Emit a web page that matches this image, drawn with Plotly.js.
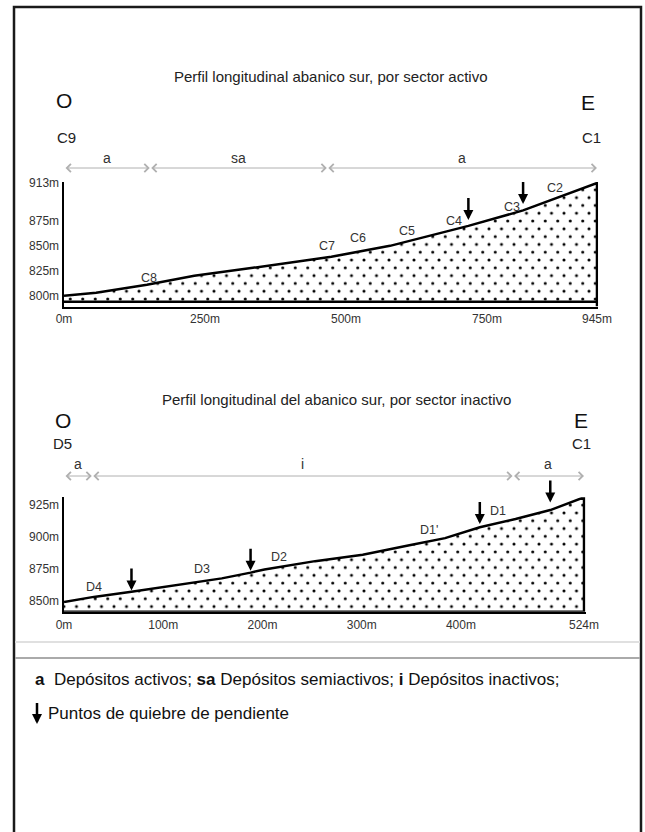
<!DOCTYPE html>
<html>
<head>
<meta charset="utf-8">
<script src="https://cdn.plot.ly/plotly-3.0.1.min.js"></script>
<style>
html,body{margin:0;padding:0;background:#fff;}
#chart{width:645px;height:832px;}
</style>
</head>
<body>
<div id="chart"></div>
<script>
// ---------- DATA ----------
// Active sector profile (distance m, elevation m)
const activeDist = [0, 57, 147, 231, 335, 474, 578, 613, 648, 717, 814, 945];
const activeElev = [800, 803, 811, 820, 828, 839, 850, 855, 860, 870, 885.5, 913];
const activeBase = 794;
const activeXTicks = [0, 250, 500, 750, 945];
const activeYTicks = [800, 825, 850, 875, 913];
const activeLabels = ['C8', 'C7', 'C6', 'C5', 'C4', 'C3', 'C2'];
const activeLabelX = [151, 467, 521, 609, 691, 795, 871];
const activeLabelY = [818, 849.7, 858, 864.5, 875, 888.7, 908];
const activeBreakX = [717, 814];
const activeBreakTip = [876, 892];
const activeSegStart = [0, 152, 466];
const activeSegEnd = [152, 466, 945];
const activeSegLabel = ['a', 'sa', 'a'];

// Inactive sector profile
const inactiveDist = [0, 30, 68, 110, 159, 188, 202, 253, 301, 348, 384, 419, 455, 490, 524];
const inactiveElev = [849, 853, 857, 862, 867.5, 872, 874.5, 881, 886, 893.5, 899, 907.5, 914, 921, 931];
const inactiveXTicks = [0, 100, 200, 300, 400, 524];
const inactiveYTicks = [850, 875, 900, 925];
const inactiveLabels = ['D4', 'D3', 'D2', "D1'", 'D1'];
const inactiveLabelX = [30, 139, 217, 368, 437];
const inactiveLabelY = [861, 874.5, 884.5, 905.4, 920];
const inactiveBreakX = [68, 188, 419, 490];
const inactiveBreakTip = [858, 873.5, 910, 927];
const inactiveSegStart = [0, 28, 452];
const inactiveSegEnd = [28, 452, 524];
const inactiveSegLabel = ['a', 'i', 'a'];

const title1 = 'Perfil longitudinal abanico sur, por sector activo';
const title2 = 'Perfil longitudinal del abanico sur, por sector inactivo';
const legendLine1 = '<b>a</b>  Depósitos activos; <b>sa</b> Depósitos semiactivos; <b>i</b> Depósitos inactivos;';
const legendLine2 = 'Puntos de quiebre de pendiente';

// ---------- LAYOUT HELPERS ----------
const W = 645, H = 832;
const px = v => v / W;
const py = v => 1 - v / H;
const FONT = 'Liberation Sans, Arial, sans-serif';

const yRange1 = [789.2, 914];
const yRange2 = [841.4, 931];

function polyX(d) { return d.concat([d[d.length - 1], d[0]]); }
function polyY(e, base) { return e.concat([base, base]); }

const pattern = {shape: '.', size: 12, solidity: 0.05, fgcolor: '#000', bgcolor: '#fff', fgopacity: 1, fillmode: 'replace'};

const data = [
  {
    x: polyX(activeDist), y: polyY(activeElev, activeBase),
    xaxis: 'x', yaxis: 'y', type: 'scatter', mode: 'lines', fill: 'toself',
    fillcolor: '#fff', fillpattern: pattern,
    line: {color: '#000', width: 2.5}, hoverinfo: 'skip'
  },
  {
    x: polyX(inactiveDist), y: polyY(inactiveElev, yRange2[0]),
    xaxis: 'x2', yaxis: 'y2', type: 'scatter', mode: 'lines', fill: 'toself',
    fillcolor: '#fff', fillpattern: pattern,
    line: {color: '#000', width: 2.5}, hoverinfo: 'skip'
  }
];

const axisCommon = {
  showgrid: false, zeroline: false, showline: true, linecolor: '#000', linewidth: 2.5,
  ticks: '', tickfont: {family: FONT, size: 12, color: '#333'}, fixedrange: true
};

const layout = {
  width: W, height: H,
  margin: {l: 0, r: 0, t: 0, b: 0},
  paper_bgcolor: '#fff', plot_bgcolor: 'rgba(0,0,0,0)',
  showlegend: false,
  xaxis: Object.assign({}, axisCommon, {
    domain: [px(64), px(598.1)], range: [0, 947], anchor: 'y',
    tickvals: activeXTicks, ticktext: activeXTicks.map(v => v + 'm')
  }),
  yaxis: Object.assign({}, axisCommon, {
    domain: [py(306.5), py(182)], range: yRange1, anchor: 'x',
    tickvals: activeYTicks, ticktext: activeYTicks.map(v => v + 'm')
  }),
  xaxis2: Object.assign({}, axisCommon, {
    domain: [px(64), px(585.5)], range: [0, 525.5], anchor: 'y2',
    tickvals: inactiveXTicks, ticktext: inactiveXTicks.map(v => v + 'm')
  }),
  yaxis2: Object.assign({}, axisCommon, {
    domain: [py(611.7), py(497.3)], range: yRange2, anchor: 'x2',
    tickvals: inactiveYTicks, ticktext: inactiveYTicks.map(v => v + 'm')
  }),
  shapes: [],
  annotations: []
};

// frame and separators
layout.shapes.push({type: 'rect', xref: 'paper', yref: 'paper', x0: px(14), x1: px(641), y0: -0.05, y1: py(7),
  line: {color: '#1a1a1a', width: 2.5}, fillcolor: 'rgba(0,0,0,0)'});
layout.shapes.push({type: 'line', xref: 'paper', yref: 'paper', x0: px(15), x1: px(640), y0: py(642), y1: py(642),
  line: {color: '#e0e0e0', width: 2}});
layout.shapes.push({type: 'line', xref: 'paper', yref: 'paper', x0: px(15), x1: px(640), y0: py(658), y1: py(658),
  line: {color: '#aaaaaa', width: 2}});
// right edge of active profile extended to the lower base line
layout.shapes.push({type: 'line', xref: 'x', yref: 'y', x0: activeDist[activeDist.length - 1], x1: activeDist[activeDist.length - 1],
  y0: activeBase, y1: yRange1[0], line: {color: '#000', width: 2.5}});

function txt(text, x, y, size, opts) {
  return Object.assign({text: text, x: x, y: y, xref: 'paper', yref: 'paper', showarrow: false,
    font: {family: FONT, size: size, color: '#222'}, xanchor: 'center', yanchor: 'middle'}, opts || {});
}
const bigFont = {family: FONT, size: 21, color: '#111'};

// Titles and orientation labels
layout.annotations.push(txt(title1, px(331), py(77), 15));
layout.annotations.push(txt('O', px(64), py(101), 21, {font: bigFont}));
layout.annotations.push(txt('E', px(588), py(103), 21, {font: bigFont}));
layout.annotations.push(txt('C9', px(66), py(137), 15));
layout.annotations.push(txt('C1', px(591), py(137), 15));

layout.annotations.push(txt(title2, px(337), py(399), 15));
layout.annotations.push(txt('O', px(63), py(420), 21, {font: bigFont}));
layout.annotations.push(txt('E', px(581), py(420), 21, {font: bigFont}));
layout.annotations.push(txt('D5', px(62), py(443), 15));
layout.annotations.push(txt('C1', px(581), py(443), 15));

// segment arrows
function segments(starts, ends, labels, xref, yLine, yLab) {
  for (let i = 0; i < starts.length; i++) {
    layout.annotations.push({
      xref: xref, yref: 'paper', x: ends[i], y: py(yLine), axref: xref, ax: starts[i], ayref: 'pixel', ay: 0,
      text: ' ', font: {size: 1}, showarrow: true, arrowside: 'end+start', arrowhead: 4, startarrowhead: 4,
      arrowsize: 1.6, startarrowsize: 1.6, arrowwidth: 1, arrowcolor: '#b0b0b0', standoff: 0, startstandoff: 0
    });
    layout.annotations.push({
      xref: xref, yref: 'paper', x: (starts[i] + ends[i]) / 2, y: py(yLab), showarrow: false,
      text: labels[i], font: {family: FONT, size: 14, color: '#333'}, xanchor: 'center', yanchor: 'middle'
    });
  }
}
segments(activeSegStart, activeSegEnd, activeSegLabel, 'x', 168, 158);
segments(inactiveSegStart, inactiveSegEnd, inactiveSegLabel, 'x2', 476, 464);

// point labels
function pointLabels(labels, xs, ys, xref, yref) {
  labels.forEach((l, i) => layout.annotations.push({
    xref: xref, yref: yref, x: xs[i], y: ys[i], text: l, showarrow: false,
    font: {family: FONT, size: 12.5, color: '#333'}, xanchor: 'center', yanchor: 'middle'
  }));
}
pointLabels(activeLabels, activeLabelX, activeLabelY, 'x', 'y');
pointLabels(inactiveLabels, inactiveLabelX, inactiveLabelY, 'x2', 'y2');

// slope break arrows
const breakArrow = {ax: 0, ay: -23, text: ' ', font: {size: 1}, showarrow: true,
  arrowhead: 2, arrowsize: 0.8, arrowwidth: 2.5, arrowcolor: '#000', standoff: 0, borderpad: 0};
function breaks(xs, tips, xref, yref) {
  xs.forEach((x, i) => layout.annotations.push(Object.assign({}, breakArrow, {xref: xref, yref: yref, x: x, y: tips[i]})));
}
breaks(activeBreakX, activeBreakTip, 'x', 'y');
breaks(inactiveBreakX, inactiveBreakTip, 'x2', 'y2');

// legend
const legFont = {family: FONT, size: 17, color: '#111'};
layout.annotations.push(txt(legendLine1, px(33), py(679), 17, {xanchor: 'left', font: legFont}));
layout.annotations.push(Object.assign({}, breakArrow, {xref: 'paper', yref: 'paper', x: px(37), y: py(724), ay: -22}));
layout.annotations.push(txt(legendLine2, px(46), py(713), 17, {xanchor: 'left', font: legFont}));

const gd = document.getElementById('chart');
Plotly.newPlot(gd, data, layout, {staticPlot: true, displayModeBar: false}).then(() => {
  // staggered dot texture like the original
  gd.querySelectorAll('pattern').forEach(p => {
    const c = p.querySelector('circle');
    if (!c) return;
    const w = 12.5, h = 15.6;
    p.setAttribute('width', w); p.setAttribute('height', h);
    p.querySelectorAll('rect').forEach(r => { r.setAttribute('width', w); r.setAttribute('height', h); });
    c.setAttribute('cx', w / 2); c.setAttribute('cy', h / 2); c.setAttribute('r', 1.5);
    c.setAttribute('fill', '#000'); c.setAttribute('fill-opacity', 1); c.style.opacity = 1;
    [[0, 0], [w, 0], [0, h], [w, h]].forEach(([x, y]) => {
      const n = c.cloneNode(); n.setAttribute('cx', x); n.setAttribute('cy', y); c.parentNode.appendChild(n);
    });
  });
});
</script>
</body>
</html>
